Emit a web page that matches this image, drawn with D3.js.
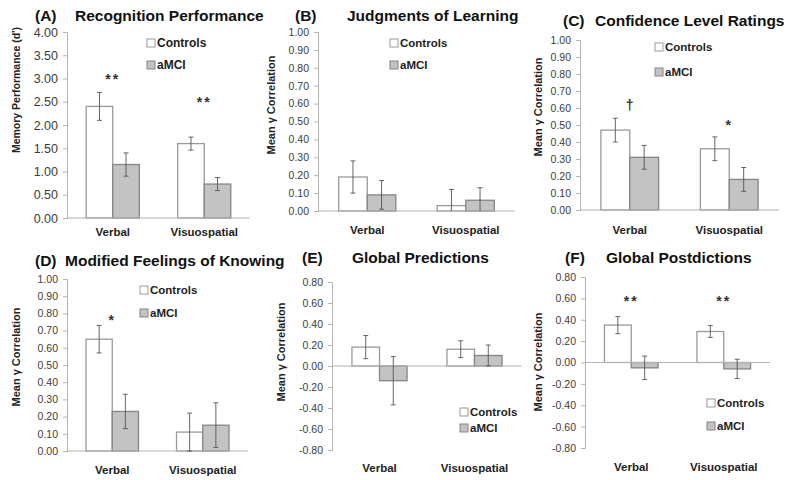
<!DOCTYPE html>
<html><head><meta charset="utf-8">
<script src="https://cdn.jsdelivr.net/npm/d3@7"></script>
<style>
html,body{margin:0;padding:0;background:#fff;}
svg{display:block;font-family:"Liberation Sans",Arial,sans-serif;}
</style></head>
<body><svg id="c" width="800" height="480"></svg>
<script>
// ---------- data ----------
const categories = ["Verbal", "Visuospatial"];
const seriesNames = ["Controls", "aMCI"];
const panelLetters = ["(A)", "(B)", "(C)", "(D)", "(E)", "(F)"];
const panelTitles = ["Recognition Performance", "Judgments of Learning", "Confidence Level Ratings",
  "Modified Feelings of Knowing", "Global Predictions", "Global Postdictions"];
const yAxisTitles = ["Memory Performance (d')", "Mean γ Correlation", "Mean γ Correlation",
  "Mean γ Correlation", "Mean γ Correlation", "Mean γ Correlation"];
const controlsMeans = [[2.40, 1.60], [0.19, 0.03], [0.47, 0.36], [0.65, 0.11], [0.18, 0.16], [0.35, 0.29]];
const controlsErr   = [[0.30, 0.14], [0.09, 0.09], [0.07, 0.07], [0.08, 0.11], [0.11, 0.08], [0.08, 0.055]];
const amciMeans     = [[1.15, 0.73], [0.09, 0.06], [0.31, 0.18], [0.23, 0.15], [-0.14, 0.10], [-0.05, -0.06]];
const amciErr       = [[0.25, 0.14], [0.08, 0.07], [0.07, 0.07], [0.10, 0.13], [0.23, 0.10], [0.11, 0.09]];
const ticksRecognition = [0.00, 0.50, 1.00, 1.50, 2.00, 2.50, 3.00, 3.50, 4.00];
const ticksCorrelation = [0.00, 0.10, 0.20, 0.30, 0.40, 0.50, 0.60, 0.70, 0.80, 0.90, 1.00];
const ticksSigned = [-0.80, -0.60, -0.40, -0.20, 0.00, 0.20, 0.40, 0.60, 0.80];
const sigPanels = [0, 0, 2, 2, 3, 5, 5];
const sigCategories = ["Verbal", "Visuospatial", "Verbal", "Visuospatial", "Verbal", "Verbal", "Visuospatial"];
const sigMarks = ["**", "**", "†", "*", "*", "**", "**"];
const sigValues = [3.05, 2.55, 0.62, 0.52, 0.78, 0.60, 0.60];

// ---------- layout ----------
const panelTicks = [ticksRecognition, ticksCorrelation, ticksCorrelation, ticksCorrelation, ticksSigned, ticksSigned];
const L = [
  {ax:67,  end:250, top:32,  bot:218, tf:12.5, lx:35,  tx:75,  ty:21,  ylx:16,  yly:90,  cy:236, lgx:147, lgy:43},
  {ax:318, end:515, top:32,  bot:211, tf:10.5, lx:295, tx:347, ty:21,  ylx:271, yly:105, cy:234, lgx:390, lgy:43},
  {ax:580, end:779, top:40,  bot:210, tf:10.5, lx:563, tx:595, ty:26,  ylx:538, yly:107, cy:234, lgx:655, lgy:47},
  {ax:67,  end:248, top:279, bot:451, tf:10.5, lx:35,  tx:65,  ty:266, ylx:16,  yly:357, cy:474, lgx:140, lgy:290},
  {ax:332, end:522, top:282, bot:450, tf:10.5, lx:302, tx:352, ty:263, ylx:281, yly:352, cy:472, lgx:460, lgy:412},
  {ax:585, end:770, top:277, bot:448, tf:10.5, lx:565, tx:606, ty:263, ylx:538, yly:362, cy:471, lgx:707, lgy:403}
];
const lgGap = [22, 22, 25, 23, 16, 23];

const svg = d3.select("#c");
const fmt = d => d.toFixed(2);
const axisCol = "#b4b4b4";
const fills = {Controls: "#ffffff", aMCI: "#c3c3c3"};
const strokes = {Controls: "#9a9a9a", aMCI: "#858585"};

panelTitles.forEach((title, p) => {
  const lay = L[p];
  const ticks = panelTicks[p];
  const dom = [d3.min(ticks), d3.max(ticks)];
  const y = d3.scaleLinear().domain(dom).range([lay.bot, lay.top]);
  const x = d3.scaleBand().domain(categories).range([lay.ax, lay.end]).paddingInner(0.42).paddingOuter(0.21);
  const xs = d3.scaleBand().domain(seriesNames).range([0, x.bandwidth()]);
  const g = svg.append("g");

  // title
  g.append("text").attr("x", lay.lx).attr("y", lay.ty).attr("font-weight", "bold")
    .attr("font-size", 15.5).attr("fill", "#111").text(panelLetters[p]);
  g.append("text").attr("x", lay.tx).attr("y", lay.ty).attr("font-weight", "bold")
    .attr("font-size", 15.5).attr("fill", "#111").text(title);

  // y axis
  const ya = g.append("g").attr("transform", `translate(${lay.ax},0)`)
    .call(d3.axisLeft(y).tickValues(ticks).tickFormat(fmt).tickSize(4).tickPadding(5));
  ya.select(".domain").attr("stroke", axisCol);
  ya.selectAll(".tick line").attr("stroke", axisCol);
  ya.selectAll(".tick text").attr("font-size", lay.tf).attr("fill", "#3c3c3c")
    .attr("font-family", "'Liberation Sans',Arial,sans-serif");

  // y axis title
  g.append("text").attr("transform", `translate(${lay.ylx},${lay.yly}) rotate(-90)`)
    .attr("text-anchor", "middle").attr("dominant-baseline", "central")
    .attr("font-weight", "bold").attr("font-size", p === 0 ? 10.5 : 11).attr("fill", "#222")
    .text(yAxisTitles[p]);

  // bars
  const rows = [];
  categories.forEach((c, ci) => {
    rows.push({c, s: "Controls", v: controlsMeans[p][ci], e: controlsErr[p][ci]});
    rows.push({c, s: "aMCI", v: amciMeans[p][ci], e: amciErr[p][ci]});
  });
  g.selectAll("rect.bar").data(rows).enter().append("rect")
    .attr("x", d => x(d.c) + xs(d.s))
    .attr("width", xs.bandwidth())
    .attr("y", d => y(Math.max(0, d.v)))
    .attr("height", d => Math.abs(y(d.v) - y(0)))
    .attr("fill", d => fills[d.s]).attr("stroke", d => strokes[d.s]).attr("stroke-width", 1.3);

  // zero / category axis line
  g.append("line").attr("x1", lay.ax).attr("x2", lay.end).attr("y1", y(0)).attr("y2", y(0))
    .attr("stroke", axisCol).attr("stroke-width", 1.2);

  // error bars
  const eb = g.selectAll("g.eb").data(rows).enter().append("g");
  const cx = d => x(d.c) + xs(d.s) + xs.bandwidth() / 2;
  const lo = d => y(Math.max(dom[0], d.v - d.e));
  const hi = d => y(Math.min(dom[1], d.v + d.e));
  eb.append("line").attr("x1", cx).attr("x2", cx).attr("y1", lo).attr("y2", hi)
    .attr("stroke", "#555").attr("stroke-width", 0.9);
  eb.append("line").attr("x1", d => cx(d) - 2.5).attr("x2", d => cx(d) + 2.5).attr("y1", hi).attr("y2", hi)
    .attr("stroke", "#555").attr("stroke-width", 0.9);
  eb.append("line").attr("x1", d => cx(d) - 2.5).attr("x2", d => cx(d) + 2.5).attr("y1", lo).attr("y2", lo)
    .attr("stroke", "#555").attr("stroke-width", 0.9)
    .attr("display", d => d.v - d.e < dom[0] ? "none" : null);

  // category labels
  g.selectAll("text.cat").data(categories).enter().append("text")
    .attr("x", d => x(d) + x.bandwidth() / 2).attr("y", lay.cy)
    .attr("text-anchor", "middle").attr("font-weight", "bold").attr("font-size", 11.5).attr("fill", "#222")
    .text(d => d);

  // legend
  seriesNames.forEach((s, si) => {
    const ly = lay.lgy + si * lgGap[p];
    g.append("rect").attr("x", lay.lgx).attr("y", ly - 4).attr("width", 8).attr("height", 8)
      .attr("fill", fills[s]).attr("stroke", strokes[s]).attr("stroke-width", 1);
    g.append("text").attr("x", lay.lgx + 10).attr("y", ly).attr("dominant-baseline", "central")
      .attr("font-weight", "bold").attr("font-size", p === 0 ? 12 : 11.5).attr("fill", "#222").text(s);
  });

  // significance marks
  sigPanels.forEach((sp, i) => {
    if (sp !== p) return;
    const isDagger = sigMarks[i] === "†";
    g.append("text").attr("x", x(sigCategories[i]) + x.bandwidth() / 2)
      .attr("y", y(sigValues[i]) + (isDagger ? 5 : 8))
      .attr("text-anchor", "middle").attr("font-weight", "bold").attr("font-size", 14).attr("fill", "#333")
      .attr("letter-spacing", isDagger ? 0 : 2)
      .text(sigMarks[i]);
  });
});
</script></body></html>
